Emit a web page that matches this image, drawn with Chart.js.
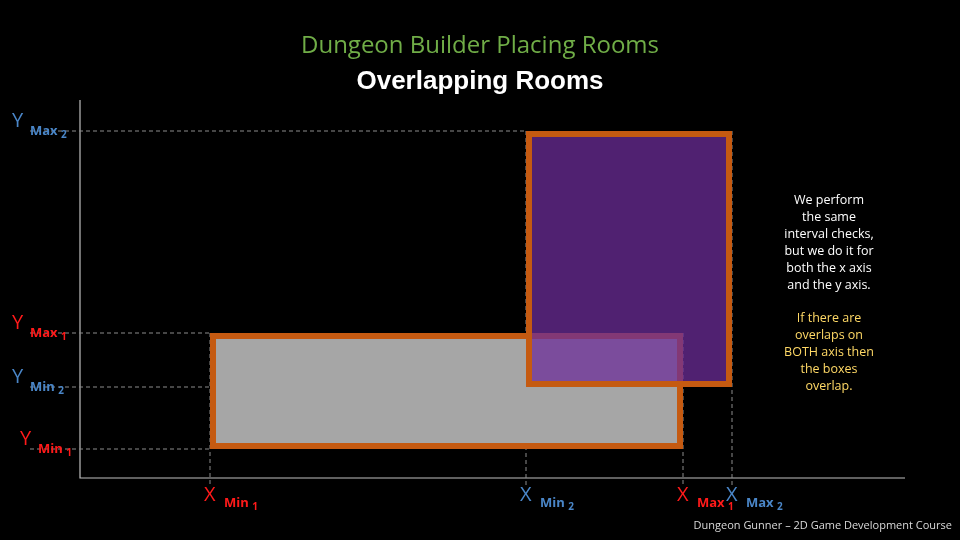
<!DOCTYPE html>
<html><head><meta charset="utf-8">
<script src="https://cdn.jsdelivr.net/npm/chart.js@4.4.1/dist/chart.umd.min.js"></script>
<style>
html,body{margin:0;background:#000;}
#wrap{position:relative;width:960px;height:540px;}
</style></head>
<body><div id="wrap"><canvas id="c" width="960" height="540"></canvas></div>
<script>
// rooms in chart units (x: 0..825, y: 0..378)
const roomNames = ["Room 1", "Room 2"];
const roomXMin = [130, 446];
const roomXMax = [603, 652];
const roomYMin = [29, 91];
const roomYMax = [145, 347];
const roomFill = ["#a6a6a6", "rgba(108,44,152,0.74)"];
const xTickLabels = [["X", "Min 1", "#ff1a1a"], ["X", "Min 2", "#4a86c8"], ["X", "Max 1", "#ff1a1a"], ["X", "Max 2", "#4a86c8"]];
const xTickValues = [130, 446, 603, 652];
const yTickLabels = [["Y", "Min 1", "#ff1a1a"], ["Y", "Max 1", "#ff1a1a"], ["Y", "Min 2", "#4a86c8"], ["Y", "Max 2", "#4a86c8"]];
const yTickValues = [29, 145, 91, 347];
const noteWhite = ["We perform", "the same", "interval checks,", "but we do it for", "both the x axis", "and the y axis."];
const noteYellow = ["If there are", "overlaps on", "BOTH axis then", "the boxes", "overlap."];

const font = "'Open Sans', 'Noto Sans', sans-serif";

const drawPlugin = {
  id: "rooms",
  beforeDatasetsDraw(chart) {
    const { ctx, chartArea: a, scales: { x, y } } = chart;
    ctx.save();
    // axes
    ctx.strokeStyle = "#bfbfbf"; ctx.lineWidth = 1.2;
    ctx.beginPath(); ctx.moveTo(a.left, a.top); ctx.lineTo(a.left, a.bottom); ctx.lineTo(a.right, a.bottom); ctx.stroke();
    // dashed guides
    ctx.setLineDash([4, 3]); ctx.strokeStyle = "#8c8c8c"; ctx.lineWidth = 1;
    xTickValues.forEach((v, i) => {
      const px = x.getPixelForValue(v), top = y.getPixelForValue(i % 2 === 0 ? 145 : 347);
      ctx.beginPath(); ctx.moveTo(px, top); ctx.lineTo(px, a.bottom + 8); ctx.stroke();
    });
    yTickValues.forEach((v, i) => {
      const py = y.getPixelForValue(v), right = x.getPixelForValue(i === 2 ? 446 : i === 3 ? 446 : 130);
      ctx.beginPath(); ctx.moveTo(a.left - 50, py); ctx.lineTo(right, py); ctx.stroke();
    });
    ctx.setLineDash([]);
    // rooms
    roomNames.forEach((_, i) => {
      const l = x.getPixelForValue(roomXMin[i]), r = x.getPixelForValue(roomXMax[i]);
      const t = y.getPixelForValue(roomYMax[i]), b = y.getPixelForValue(roomYMin[i]);
      ctx.fillStyle = roomFill[i]; ctx.fillRect(l, t, r - l, b - t);
      ctx.strokeStyle = "#c55a11"; ctx.lineWidth = 6; ctx.strokeRect(l + 3, t + 3, r - l - 6, b - t - 6);
    });
    // tick labels
    ctx.textBaseline = "alphabetic";
    xTickValues.forEach((v, i) => {
      const [m, s, c] = xTickLabels[i]; const px = x.getPixelForValue(v);
      ctx.fillStyle = c; ctx.textAlign = "left";
      ctx.font = "20px " + font; ctx.fillText(m, px - 6, a.bottom + 23);
      ctx.font = "bold 13px " + font; ctx.fillText(s.split(" ")[0], px + 14, a.bottom + 29);
      const w = ctx.measureText(s.split(" ")[0] + " ").width;
      ctx.font = "bold 10px " + font; ctx.fillText(s.split(" ")[1], px + 14 + w, a.bottom + 32);
    });
    yTickValues.forEach((v, i) => {
      const [m, s, c] = yTickLabels[i]; const py = y.getPixelForValue(v);
      ctx.fillStyle = c; ctx.textAlign = "left";
      const lx = i === 0 ? 20 : 12;
      ctx.font = "20px " + font; ctx.fillText(m, lx, py - 4);
      ctx.font = "bold 13px " + font; ctx.fillText(s.split(" ")[0], lx + 18, py + 4);
      const w = ctx.measureText(s.split(" ")[0] + " ").width;
      ctx.font = "bold 10px " + font; ctx.fillText(s.split(" ")[1], lx + 18 + w, py + 7);
    });
    // titles
    ctx.textAlign = "center";
    ctx.fillStyle = "#70ad47"; ctx.font = "24px " + font; ctx.fillText("Dungeon Builder Placing Rooms", 480, 53);
    ctx.fillStyle = "#fff"; ctx.font = "bold 26px 'Liberation Sans', Arial, sans-serif"; ctx.fillText("Overlapping Rooms", 480, 89);
    ctx.font = "12.5px " + font;
    noteWhite.forEach((t, i) => ctx.fillText(t, 829, 204 + i * 17));
    ctx.fillStyle = "#ffd966";
    noteYellow.forEach((t, i) => ctx.fillText(t, 829, 322 + i * 17));
    ctx.textAlign = "right"; ctx.fillStyle = "#d9d9d9"; ctx.font = "11px " + font;
    ctx.fillText("Dungeon Gunner \u2013 2D Game Development Course", 952, 529);
    ctx.restore();
  }
};

new Chart(document.getElementById("c"), {
  type: "scatter",
  data: { datasets: [{ data: [], pointRadius: 0 }] },
  options: {
    responsive: false, animation: false, devicePixelRatio: 1,
    layout: { padding: { left: 80, right: 55, top: 100, bottom: 62 } },
    plugins: { legend: { display: false }, tooltip: { enabled: false } },
    scales: {
      x: { type: "linear", min: 0, max: 825, display: false },
      y: { type: "linear", min: 0, max: 378, display: false }
    }
  },
  plugins: [drawPlugin]
});
</script></body></html>
